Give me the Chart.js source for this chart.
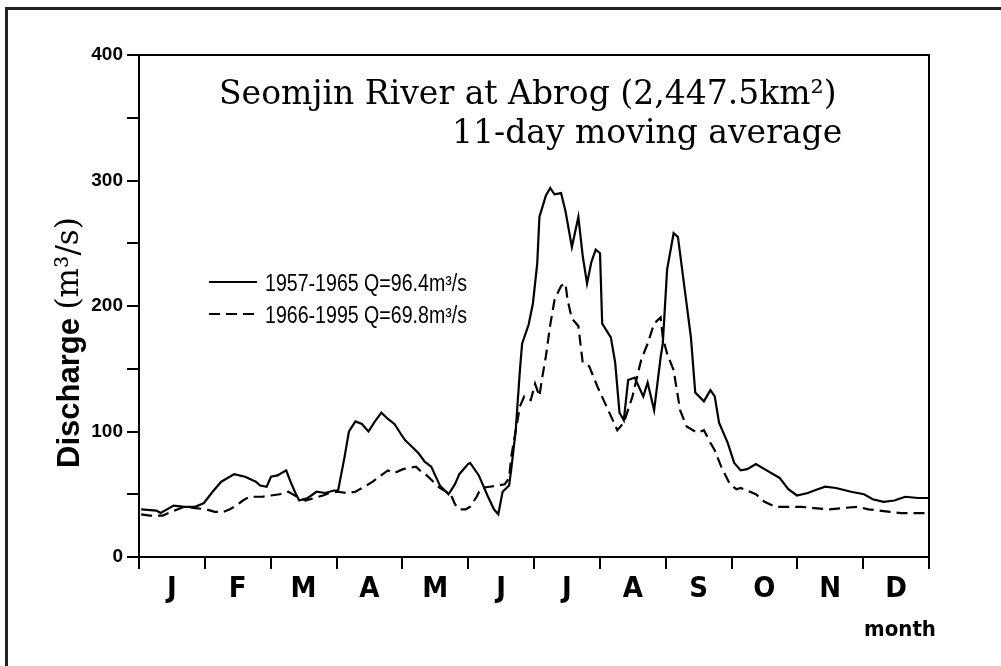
<!DOCTYPE html>
<html lang="en">
<head>
<meta charset="UTF-8" />
<style>
  html, body { margin: 0; padding: 0; background: #fff; overflow: hidden; }
  #frame { position: absolute; left: 5px; top: 7px; width: 1100px; height: 800px; border: 3px solid #222; box-sizing: border-box; }
  #wrap { position: absolute; left: 0; top: 0; width: 1001px; height: 666px; }
</style>
</head>
<body>
<div id="frame"></div>
<div id="wrap"><canvas id="myChart"></canvas></div>
<script src="https://cdn.jsdelivr.net/npm/chart.js@4.4.0/dist/chart.umd.min.js"></script>
<script>
// month letters on the x axis
const months = ["J", "F", "M", "A", "M", "J", "J", "A", "S", "O", "N", "D"];
const yTicks = [0, 100, 200, 300, 400];

const titleLines = ["Seomjin River at Abrog (2,447.5km\u00b2)", "11-day moving average"];
const legendLabels = ["1957-1965 Q=96.4m\u00b3/s", "1966-1995 Q=69.8m\u00b3/s"];

// 1957-1965, day of year -> discharge (m3/s)
const solidDays = [1,8,10,16,21,26,30,34,38,44,49,54,56,59,61,64,68,70,72,74,78,82,86,90,92,95,97,100,103,106,
  109,112,115,118,121,123,126,129,132,135,139,143,146,148,152,153,157,161,164,166,168,171,172,174,176,177,180,182,184,185,
  188,190,192,195,197,200,203,205,207,209,211,213,214,218,220,222,224,226,229,233,235,238,241,242,244,247,249,252,255,257,
  261,264,266,268,272,275,278,281,285,290,296,300,304,309,312,317,322,329,335,339,344,349,354,360,365];
const solidVals = [38,37,35,41,40,40,43,52,60,66,64,60,57,56,64,65,69,60,52,45,47,52,51,53,53,80,100,108,106,100,
  108,115,110,106,98,93,88,83,76,72,57,50,58,66,74,75,65,49,38,34,52,57,70,100,149,170,185,202,234,271,
  288,294,289,290,276,247,271,240,218,235,245,242,186,175,155,115,109,141,143,128,139,117,159,170,229,258,255,215,175,131,
  124,133,128,107,91,75,69,70,74,69,63,54,49,51,53,56,55,52,50,46,44,45,48,47,47];

// 1966-1995
const dashDays = [1,5,11,15,21,26,31,35,39,42,45,48,51,57,61,65,69,73,77,81,85,88,92,96,100,104,108,111,115,118,
  122,125,128,131,133,136,139,142,144,146,148,151,153,156,158,162,166,169,171,172,174,176,178,181,183,185,186,188,190,192,
  195,197,198,200,203,205,208,212,216,221,224,228,232,235,238,241,242,244,247,250,253,258,261,264,266,269,273,276,278,281,
  285,289,294,300,306,312,319,325,332,337,342,347,352,359,365];
const dashVals = [34,33,33,36,40,39,38,36,36,38,41,45,48,48,49,50,52,48,45,47,49,51,52,51,52,56,60,64,69,67,
  70,71,72,67,65,60,55,52,50,42,38,38,40,48,55,56,57,58,63,80,100,120,128,125,138,128,140,160,185,205,
  216,218,205,190,184,155,152,135,120,101,107,128,157,170,186,191,175,162,149,117,104,99,101,91,85,72,58,54,55,53,
  50,44,40,40,40,39,38,39,40,38,37,36,35,35,35];

const toPoints = (days, vals) => days.map((d, i) => ({ x: d, y: vals[i] }));

const narrow = '"Liberation Sans Narrow", "DejaVu Sans Condensed", "Liberation Sans", sans-serif';
Chart.defaults.font.family = '"Liberation Sans", Arial, sans-serif';
Chart.defaults.color = "#000";

// title, y label, legend, "month", frame
const decorations = {
  id: "decorations",
  afterDraw(chart) {
    const { ctx, chartArea: a } = chart;
    ctx.save();
    ctx.strokeStyle = "#000";
    ctx.lineWidth = 2;
    ctx.beginPath();
    ctx.moveTo(a.left, a.top);
    ctx.lineTo(a.right, a.top);
    ctx.lineTo(a.right, a.bottom);
    ctx.stroke();

    ctx.fillStyle = "#000";
    ctx.textAlign = "left";
    ctx.textBaseline = "alphabetic";
    ctx.font = '33px "DejaVu Serif", serif';
    ctx.fillText(titleLines[0], 219, 104);
    ctx.fillText(titleLines[1], 452, 143);

    // legend (condensed text like the original)
    ctx.textBaseline = "middle";
    chart.data.datasets.forEach((ds, i) => {
      const y = 282 + i * 32;
      ctx.setLineDash(ds.borderDash || []);
      ctx.lineWidth = 2;
      ctx.beginPath();
      ctx.moveTo(209, y);
      ctx.lineTo(257, y);
      ctx.stroke();
      ctx.setLineDash([]);
      ctx.save();
      ctx.translate(265, y + 3);
      ctx.font = '23px "Liberation Sans", Arial, sans-serif';
      const w = ctx.measureText(legendLabels[i]).width;
      ctx.scale(202 / w, 1);
      ctx.fillText(legendLabels[i], 0, 0);
      ctx.restore();
    });

    // y axis title
    ctx.save();
    ctx.translate(70, 468);
    ctx.rotate(-Math.PI / 2);
    ctx.textBaseline = "middle";
    ctx.font = 'bold 31px "Liberation Sans", Arial, sans-serif';
    const part1 = "Discharge ";
    ctx.fillText(part1, 0, 0);
    const w1 = ctx.measureText(part1).width;
    ctx.font = '31px "DejaVu Serif", serif';
    ctx.fillText("(m\u00b3/s)", w1, 0);
    ctx.restore();

    ctx.textAlign = "center";
    ctx.font = "bold 22px " + narrow;
    ctx.fillText("month", 900, 630);
    ctx.restore();
  }
};

const ctx = document.getElementById("myChart").getContext("2d");
const chart = new Chart(ctx, {
  type: "line",
  data: {
    datasets: [
      {
        data: toPoints(solidDays, solidVals),
        borderColor: "#000",
        borderWidth: 2.2,
        pointRadius: 0,
        tension: 0
      },
      {
        data: toPoints(dashDays, dashVals),
        borderColor: "#000",
        borderWidth: 2.2,
        borderDash: [11, 6],
        pointRadius: 0,
        tension: 0
      }
    ]
  },
  options: {
    responsive: true,
    maintainAspectRatio: false,
    animation: false,
    layout: { padding: { left: 0, right: 72, top: 55, bottom: 0 } },
    plugins: { legend: { display: false }, tooltip: { enabled: false } },
    scales: {
      x: { type: "linear", min: 0, max: 365, display: false },
      month: {
        type: "category",
        labels: months,
        position: "bottom",
        offset: true,
        grid: { offset: true, drawOnChartArea: false, tickLength: 12, color: "#000", lineWidth: 2 },
        border: { color: "#000", width: 2 },
        ticks: { font: { family: narrow, size: 29, weight: "bold" }, padding: 3, maxRotation: 0, autoSkip: false },
        afterFit: (s) => { s.height = 109; }
      },
      y: {
        min: 0,
        max: 400,
        afterBuildTicks: (s) => {
          s.ticks = [];
          for (let v = 0; v <= 400; v += 50) s.ticks.push({ value: v });
        },
        ticks: {
          font: { size: 19, weight: "bold" },
          padding: 4,
          callback: (v) => (yTicks.includes(v) ? v : "")
        },
        grid: { drawOnChartArea: false, tickLength: 12, color: "#000", lineWidth: 2 },
        border: { color: "#000", width: 2 },
        afterFit: (s) => { s.width = 139; }
      }
    }
  },
  plugins: [decorations]
});
</script>
</body>
</html>
